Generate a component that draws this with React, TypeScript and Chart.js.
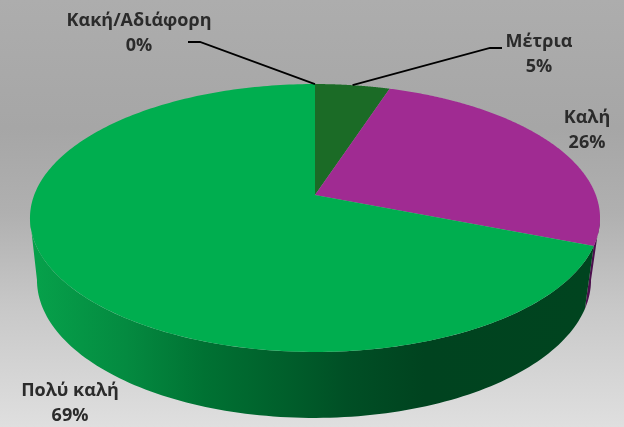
import React, { useEffect, useRef } from "react";
import { Chart, registerables } from "chart.js";

Chart.register(...registerables);

const categories = ["Κακή/Αδιάφορη", "Μέτρια", "Καλή", "Πολύ καλή"];
const values = [0, 5, 26, 69];
const percentLabels = ["0%", "5%", "26%", "69%"];
const sliceColors = ["#c00000", "#1b6b26", "#a02b92", "#00ae4f"];
const sideColors = ["#600000", "#0e3b14", "#4c0f4d", "#00431f"];

// layout of the drawing
const W = 624;
const H = 427;
const APEX = { x: 315, y: 195 };
const PERSP_K = -0.1716;
const PERSP_A = 280.8;
const PERSP_B = 130;
const TOP_CENTER = { x: 315, y: 218, rx: 285, ry: 134 };
const BOTTOM_CENTER = { x: 314, y: 280, rx: 277, ry: 138 };
const LABEL_CENTERS = [
  { x: 139, y: 21 },
  { x: 539, y: 42 },
  { x: 587, y: 118 },
  { x: 70, y: 391 },
];
const LINE_GAP = 25;
const LEADERS: Record<number, { x: number; y: number }[]> = {
  0: [{ x: 188, y: 42 }, { x: 200, y: 42 }],
  1: [{ x: 502, y: 48 }, { x: 490, y: 48 }],
};

const project = (t: number) => {
  const s = Math.sin(t);
  const yy = -Math.cos(t);
  const d = 1 + PERSP_K * yy;
  return { x: APEX.x + (PERSP_A * s) / d, y: APEX.y + (PERSP_B * yy) / d };
};
const lower = (p: { x: number; y: number }) => ({
  x: BOTTOM_CENTER.x + ((p.x - TOP_CENTER.x) * BOTTOM_CENTER.rx) / TOP_CENTER.rx,
  y: BOTTOM_CENTER.y + ((p.y - TOP_CENTER.y) * BOTTOM_CENTER.ry) / TOP_CENTER.ry,
});

const T_RIGHT = Math.PI / 2 + Math.asin(-PERSP_K);
const T_LEFT = 2 * Math.PI - T_RIGHT;

const pie3d = {
  id: "pie3d",
  beforeDraw(chart: any) {
    const { ctx } = chart;
    const g = ctx.createLinearGradient(0, 0, 0, H);
    g.addColorStop(0, "#adadad");
    g.addColorStop(0.3, "#a6a6a6");
    g.addColorStop(0.5, "#b0b0b0");
    g.addColorStop(0.72, "#c8c8c8");
    g.addColorStop(1, "#dfdfdf");
    ctx.fillStyle = g;
    ctx.fillRect(0, 0, W, H);
  },
  beforeDatasetsDraw(chart: any) {
    const { ctx } = chart;
    const arcs = chart.getDatasetMeta(0).data;
    const range = (a: any) => [a.startAngle + Math.PI / 2, a.endAngle + Math.PI / 2];

    const sideGrad = ctx.createLinearGradient(38, 0, 590, 0);
    sideGrad.addColorStop(0, "#06a04a");
    sideGrad.addColorStop(0.16, "#048a40");
    sideGrad.addColorStop(0.3, "#007233");
    sideGrad.addColorStop(0.47, "#005c2a");
    sideGrad.addColorStop(0.56, "#004f25");
    sideGrad.addColorStop(0.7, "#00431f");
    sideGrad.addColorStop(1, "#00441f");

    arcs.forEach((a: any, i: number) => {
      if (values[i] === 0) return;
      const [s0, e0] = range(a);
      const s = Math.max(s0, T_RIGHT);
      const e = Math.min(e0, T_LEFT);
      if (e <= s) return;
      const n = 120;
      ctx.beginPath();
      for (let k = 0; k <= n; k++) {
        const p = project(s + ((e - s) * k) / n);
        k === 0 ? ctx.moveTo(p.x, p.y) : ctx.lineTo(p.x, p.y);
      }
      for (let k = n; k >= 0; k--) {
        const p = lower(project(s + ((e - s) * k) / n));
        ctx.lineTo(p.x, p.y);
      }
      ctx.closePath();
      ctx.fillStyle = i === 3 ? sideGrad : sideColors[i];
      ctx.fill();
    });

    arcs.forEach((a: any, i: number) => {
      if (values[i] === 0) return;
      const [s, e] = range(a);
      const n = 240;
      ctx.beginPath();
      ctx.moveTo(APEX.x, APEX.y);
      for (let k = 0; k <= n; k++) {
        const p = project(s + ((e - s) * k) / n);
        ctx.lineTo(p.x, p.y);
      }
      ctx.closePath();
      ctx.fillStyle = sliceColors[i];
      ctx.fill();
    });
    return false;
  },
  afterDraw(chart: any) {
    const { ctx } = chart;
    const arcs = chart.getDatasetMeta(0).data;
    ctx.strokeStyle = "#000000";
    ctx.lineWidth = 1.8;
    Object.keys(LEADERS).forEach((key) => {
      const i = Number(key);
      const mid = (arcs[i].startAngle + arcs[i].endAngle) / 2 + Math.PI / 2;
      const end = project(mid);
      ctx.beginPath();
      LEADERS[i].forEach((p, k) => (k === 0 ? ctx.moveTo(p.x, p.y) : ctx.lineTo(p.x, p.y)));
      ctx.lineTo(end.x, end.y);
      ctx.stroke();
    });
    ctx.fillStyle = "#2b2b2b";
    ctx.font = 'bold 18px "Open Sans"';
    ctx.textAlign = "center";
    ctx.textBaseline = "middle";
    categories.forEach((c, i) => {
      const l = LABEL_CENTERS[i];
      ctx.fillText(c, l.x, l.y);
      ctx.fillText(percentLabels[i], l.x, l.y + LINE_GAP);
    });
  },
};

export default function App() {
  const ref = useRef<HTMLCanvasElement>(null);
  useEffect(() => {
    const chart = new Chart(ref.current!, {
      type: "pie",
      data: {
        labels: categories,
        datasets: [{ data: values, backgroundColor: sliceColors, borderWidth: 0 }],
      },
      options: {
        animation: false,
        responsive: false,
        plugins: { legend: { display: false }, tooltip: { enabled: false } },
      },
      plugins: [pie3d],
    });
    return () => chart.destroy();
  }, []);
  return (
    <div style={{ position: "fixed", left: 0, top: 0, width: W, height: H }}>
      <canvas ref={ref} width={W} height={H} style={{ display: "block" }} />
    </div>
  );
}
